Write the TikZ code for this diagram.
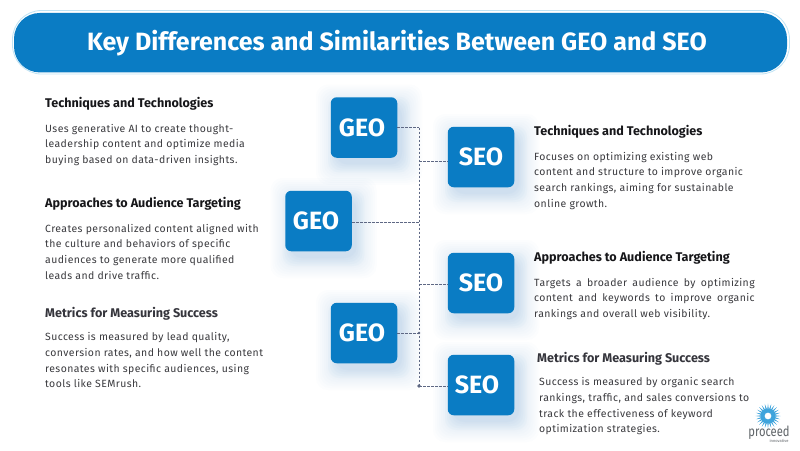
\documentclass[tikz,border=0pt]{standalone}
\usepackage{fontspec}
\setmainfont{Fira Sans}
\newfontfamily\bodyfont[LetterSpace=4]{Fira Sans}
\newfontfamily\logofont[FakeStretch=0.8]{Fira Sans}
\usetikzlibrary{calc}
\definecolor{brand}{HTML}{0A7CC4}
\definecolor{halo}{HTML}{4AA6E0}
\definecolor{ring}{HTML}{BFE3F4}
\definecolor{ink}{HTML}{17171A}
\definecolor{softink}{HTML}{35353C}
\definecolor{bodyink}{HTML}{3A3A3E}
\definecolor{wire}{HTML}{5E6884}
\definecolor{logoblue}{HTML}{3FA4DC}
\definecolor{logogray}{HTML}{5F6468}
\tikzset{
  x=1pt,y=-1pt,
  tilebox/.style={fill=brand,rounded corners=6pt,minimum width=66.5pt,minimum height=60.5pt,inner sep=0pt,
    text=white,font=\fontsize{25}{26}\selectfont\bfseries},
  headtext/.style={anchor=north west,inner sep=0pt,text=ink,font=\fontsize{12.6}{15}\selectfont\bfseries},
  bodytext/.style={anchor=north west,inner sep=0pt,text=bodyink,align=left,font=\fontsize{10.45}{15.6}\selectfont\bodyfont},
  wirestyle/.style={draw=wire,line width=.8pt,dash pattern=on 2.8pt off 1.2pt},
  dotstyle/.style={fill=wire,circle,inner sep=0pt,minimum size=2.6pt},
}
\newcommand{\softshadow}[1]{%
  \foreach \g in {20,18,...,0}{
    \fill[halo,opacity=.016,rounded corners=12pt]
      ($(#1)+(5,7)+(-33-\g,-30-\g)$) rectangle ($(#1)+(5,7)+(33+\g,30+\g)$);
  }
  \foreach \g in {8,6,...,0}{
    \fill[halo,opacity=.02,rounded corners=10pt]
      ($(#1)+(5,7)+(-33-\g,-30-\g)$) rectangle ($(#1)+(5,7)+(33+\g,30+\g)$);
  }
}
\newcommand{\jl}[1]{\makebox[220.5pt][s]{#1}}
\begin{document}
\begin{tikzpicture}
\useasboundingbox (0,0) rectangle (800,450);
\fill[white] (0,0) rectangle (800,450);
% banner
\draw[ring,line width=.8pt,rounded corners=29pt] (12.5,10.5) rectangle (789.5,74);
\node[fill=brand,rounded corners=26pt,minimum width=773pt,minimum height=59.5pt,inner sep=0pt,text=white,
  font=\fontsize{25}{28}\selectfont\bfseries] (banner) at (400.5,42.7) {\hspace*{-7pt}Key Differences and Similarities Between GEO and SEO};
% shadows
\foreach \p in {{364,127.5},{481,157},{318.5,221},{481,283},{364,333},{481,385}}{
  \expandafter\softshadow\expandafter{\p}
}
% tiles
\node[tilebox] (geoa) at (364,127.5) {\hspace*{-4pt}GEO};
\node[tilebox] (seoa) at (481,157) {SEO};
\node[tilebox] (geob) at (318.5,221) {\hspace*{-5pt}GEO};
\node[tilebox] (seob) at (481,283) {SEO};
\node[tilebox] (geoc) at (364,333) {\hspace*{-4pt}GEO};
\node[tilebox] (seoc) at (481,385) {\hspace*{-8pt}SEO};
% connectors
\coordinate (spinetop) at (419,127.5);
\coordinate (spinebot) at (419,386);
\coordinate (ja) at (419,161);
\coordinate (jb) at (419,222);
\coordinate (jc) at (419,284);
\coordinate (jd) at (419,333);
\draw[wirestyle] (spinetop) -- (spinebot);
\draw[wirestyle] (geoa.east) -- (spinetop);
\draw[wirestyle] (ja) -- (seoa.west |- ja);
\draw[wirestyle] (geob.east |- jb) -- (jb);
\draw[wirestyle] (jc) -- (seob.west |- jc);
\draw[wirestyle] (geoc.east) -- (jd);
\draw[wirestyle] (spinebot) -- (seoc.west |- spinebot);
\node[dotstyle] (da) at (jd) {};
\node[dotstyle,minimum size=3.6pt] (db) at (spinebot) {};
% left column
\node[headtext] (h1) at (45,97) {Techniques and Technologies};
\node[bodytext] (b1) at (45,124) {Uses generative AI to create thought-\\leadership content and optimize media\\buying based on data-driven insights.};
\node[headtext] (h2) at (45,197) {Approaches to Audience Targeting};
\node[bodytext] (b2) at (45,224) {Creates personalized content aligned with\\the culture and behaviors of specific\\audiences to generate more qualified\\leads and drive traffic.};
\node[headtext,text=softink] (h3) at (45,307) {Metrics for Measuring Success};
\node[bodytext] (b3) at (45,332.5) {Success is measured by lead quality,\\conversion rates, and how well the content\\resonates with specific audiences, using\\tools like SEMrush.};
% right column
\node[headtext] (h4) at (534,125) {Techniques and Technologies};
\node[bodytext] (b4) at (534,152) {Focuses on optimizing existing web\\content and structure to improve organic\\search rankings, aiming for sustainable\\online growth.};
\node[headtext] (h5) at (534,251) {Approaches to Audience Targeting};
\node[bodytext] (b5) at (534,278) {\jl{Targets a broader audience by optimizing}\\\jl{content and keywords to improve organic}\\rankings and overall web visibility.};
\node[headtext,text=softink] (h6) at (537,352) {Metrics for Measuring Success};
\node[bodytext] (b6) at (539,377.5) {Success is measured by organic search\\rankings, traffic, and sales conversions to\\track the effectiveness of keyword\\optimization strategies.};
% logo
\fill[logoblue,even odd rule] (768,416) circle[radius=7.5pt] (768,416) circle[radius=3.5pt];
\foreach \a in {0,15,...,345}{
  \fill[logoblue] ($(768,416)+(\a-7:6.5)$) -- ($(768,416)+(\a:12.5)$) -- ($(768,416)+(\a+7:6.5)$) -- cycle;
}
\node[inner sep=0pt,text=logogray,font=\fontsize{14}{14}\selectfont\logofont] (logoa) at (769,433) {proceed};
\node[inner sep=0pt,text=logogray,font=\fontsize{4}{4}\selectfont] (logob) at (779,441) {innovative};
\end{tikzpicture}
\end{document}
